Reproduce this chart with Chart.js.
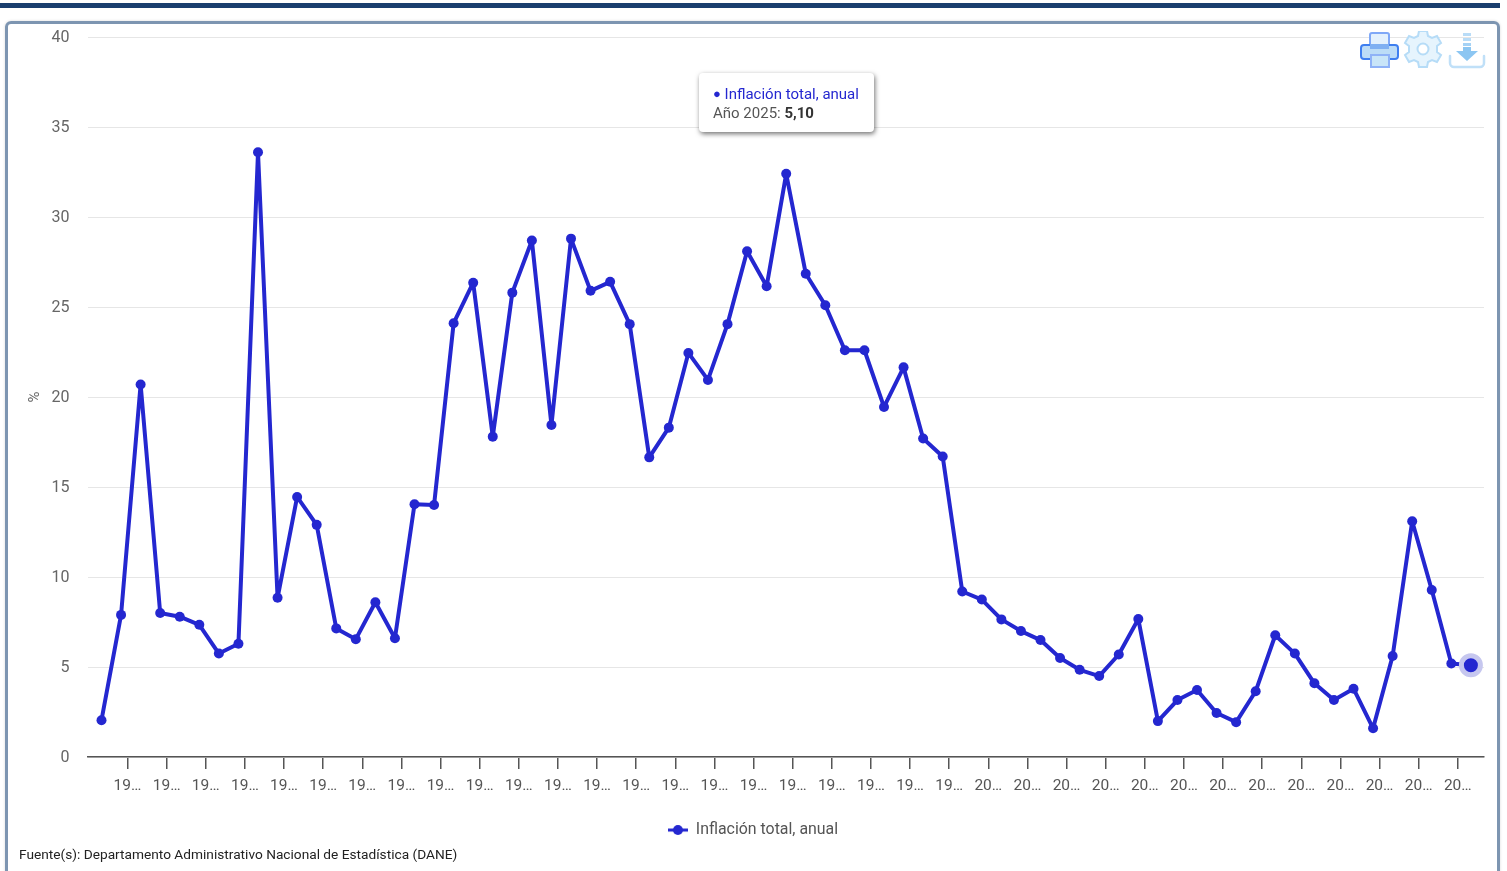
<!DOCTYPE html>
<html lang="es">
<head>
<meta charset="utf-8">
<title>Inflación total, anual</title>
<script src="https://cdn.jsdelivr.net/npm/chart.js@4"></script>
<style>
html, body { margin: 0; height: 871px; overflow: hidden; background: #fff; font-family: Roboto, sans-serif; }
.top-bar { position: absolute; left: 0; top: 3px; width: 1500px; height: 5px; background: #1a3e6e; }
.card { position: absolute; left: 5px; top: 21px; width: 1489px; height: 900px; border: 3px solid #7d95b1; border-radius: 6px; box-shadow: 0 0 3px rgba(0,0,0,.15); }
#chart { position: absolute; left: 0; top: 0; }
.icons { position: absolute; left: 1360px; top: 31px; }
.source { position: absolute; left: 19px; top: 846px; font-size: 13.7px; color: #222; }
#tip { position: absolute; left: 699px; top: 73px; width: 175px; height: 59px; box-sizing: border-box; padding: 11px 14px; background: #fff; border-radius: 4px; box-shadow: 1px 2px 5px rgba(0,0,0,.55); font-size: 15px; line-height: 19px; color: #555; white-space: nowrap; }
#tip .name { color: #2427d0; }
#tip .dot { font-size: 13px; vertical-align: 1px; }
#tip b { color: #333; }
</style>
</head>
<body>
<div class="top-bar"></div>
<div class="card"></div>
<canvas id="chart" width="1507" height="871"></canvas>
<svg class="icons" width="127" height="40" viewBox="0 0 127 40">
  <!-- impresora -->
  <rect x="10" y="2" width="19" height="14" rx="2" fill="#e3f1fd" stroke="#7fa8f7" stroke-width="2"/>
  <path d="M4 14h31a3 3 0 0 1 3 3v8a3 3 0 0 1-3 3H4a3 3 0 0 1-3-3v-8a3 3 0 0 1 3-3z" fill="#bcdcf7" stroke="#3f7ff0" stroke-width="2"/>
  <rect x="10" y="13" width="19" height="5" fill="#7fb0f2"/>
  <rect x="11" y="24" width="18" height="12" fill="#c9e5f8" stroke="#8fb2f7" stroke-width="2"/>
  <!-- engranaje -->
  <g transform="translate(63 18)" fill="#e6f4fd" stroke="#b6dcf7" stroke-width="2">
    <path d="M-4 -18h8l1 5 4 2 5-2 4 7-4 3v6l4 3-4 7-5-2-4 2-1 5h-8l-1-5-4-2-5 2-4-7 4-3v-6l-4-3 4-7 5 2 4-2z"/>
    <circle r="5.5" fill="#fff"/>
  </g>
  <!-- descarga -->
  <g>
    <rect x="103" y="2" width="8" height="3" fill="#b9dcf7"/>
    <rect x="103" y="7" width="8" height="3" fill="#b9dcf7"/>
    <rect x="103" y="12" width="8" height="3" fill="#a5d2f5"/>
    <path d="M103 16h8v4h7l-11 10-11-10h7z" fill="#8cc6f2"/>
    <path d="M90 25v7a4 4 0 0 0 4 4h26a4 4 0 0 0 4-4v-7" fill="none" stroke="#c0e0f8" stroke-width="2.5" stroke-linecap="round"/>
  </g>
</svg>
<div id="tip"></div>
<div class="source">Fuente(s): Departamento Administrativo Nacional de Estadística (DANE)</div>

<script>
/* DATA */
const years = [1955,1956,1957,1958,1959,1960,1961,1962,1963,1964,1965,1966,1967,1968,1969,1970,1971,1972,
    1973,1974,1975,1976,1977,1978,1979,1980,1981,1982,1983,1984,1985,1986,1987,1988,1989,1990,1991,1992,
    1993,1994,1995,1996,1997,1998,1999,2000,2001,2002,2003,2004,2005,2006,2007,2008,2009,2010,2011,2012,
    2013,2014,2015,2016,2017,2018,2019,2020,2021,2022,2023,2024,2025];
const inflacion = [2.05,7.9,20.7,8.0,7.8,7.35,5.75,6.3,33.6,8.85,14.45,12.9,7.15,6.55,8.6,6.6,14.05,14.0,
    24.1,26.35,17.8,25.8,28.7,18.45,28.8,25.9,26.4,24.05,16.65,18.3,22.45,20.95,24.05,28.1,26.15,32.4,26.85,25.1,
    22.6,22.6,19.45,21.65,17.7,16.7,9.2,8.75,7.65,7.0,6.5,5.5,4.85,4.5,5.7,7.67,2.0,3.17,3.73,2.45,
    1.94,3.66,6.77,5.75,4.1,3.17,3.8,1.6,5.62,13.1,9.28,5.2,5.1];
const xTickValues = [1956.33,1958.33,1960.33,1962.33,1964.33,1966.33,1968.33,1970.33,1972.33,1974.33,1976.33,1978.33,
    1980.33,1982.33,1984.33,1986.33,1988.33,1990.33,1992.33,1994.33,1996.33,1998.33,2000.33,2002.33,
    2004.33,2006.33,2008.33,2010.33,2012.33,2014.33,2016.33,2018.33,2020.33,2022.33,2024.33];
const xTickLabels = ['19…','19…','19…','19…','19…','19…','19…','19…','19…','19…','19…','19…','19…','19…','19…','19…','19…','19…','19…','19…','19…','19…',
    '20…','20…','20…','20…','20…','20…','20…','20…','20…','20…','20…','20…','20…'];
const serieNombre = 'Inflación total, anual';
const azul = '#2427d0';

/* simbolo de la leyenda: linea con punto */
const legendSym = document.createElement('canvas');
legendSym.width = 20; legendSym.height = 10;
const sym = legendSym.getContext('2d');
sym.fillStyle = azul; sym.fillRect(0, 3.5, 20, 3);
sym.beginPath(); sym.arc(10, 5, 5, 0, Math.PI * 2); sym.fill();

/* tooltip html, el texto lleva negrita */
function tipHtml(ctx) {
    const dp = ctx.tooltip.dataPoints && ctx.tooltip.dataPoints[0];
    if (!dp) return;
    document.getElementById('tip').innerHTML =
        `<div class="name"><span class="dot">●</span> ${dp.dataset.label}</div>` +
        `<div>Año ${years[dp.dataIndex]}: <b>${dp.parsed.y.toFixed(2).replace('.', ',')}</b></div>`;
}

const chart = new Chart(document.getElementById('chart'), {
    type: 'line',
    data: {
        datasets: [{
            label: serieNombre,
            data: years.map((y, i) => ({x: y, y: inflacion[i]})),
            borderColor: azul, backgroundColor: azul,
            borderWidth: 4, tension: 0, borderJoinStyle: 'round',
            pointRadius: 5, pointBackgroundColor: azul, pointBorderWidth: 0,
            pointHoverRadius: 9.5, pointHoverBackgroundColor: azul,
            pointHoverBorderWidth: 5, pointHoverBorderColor: '#c6c7ef'
        }]
    },
    options: {
        responsive: false, animation: false, events: [],
        layout: {padding: {left: 22, right: 23, top: 37, bottom: 23}},
        plugins: {
            legend: {
                position: 'bottom',
                labels: {
                    usePointStyle: true, pointStyleWidth: 20, padding: 10,
                    color: '#555', font: {family: 'Roboto', size: 15.9},
                    generateLabels: () => [{text: serieNombre, pointStyle: legendSym, datasetIndex: 0, fontColor: '#555', lineWidth: 0}]
                }
            },
            tooltip: {enabled: false, external: tipHtml}
        },
        scales: {
            x: {
                type: 'linear', min: 1954.31, max: 2025.67,
                afterBuildTicks: s => { s.ticks = xTickValues.map(v => ({value: v})); },
                afterFit: s => { s.height = 55; },
                border: {color: '#555', width: 1.5},
                grid: {drawOnChartArea: false, color: '#555', tickLength: 12, lineWidth: 1.5},
                ticks: {
                    autoSkip: false, maxRotation: 0, padding: 8, color: '#555',
                    font: {family: 'Roboto', size: 15.5},
                    callback: (v, i) => xTickLabels[i]
                }
            },
            y: {
                min: 0, max: 40,
                afterFit: s => { s.width = 66; },
                border: {display: false},
                grid: {color: '#e6e6e6', drawTicks: false},
                ticks: {stepSize: 5, padding: 18.5, labelOffset: 1, color: '#666', font: {family: 'Roboto', size: 16}},
                title: {display: true, text: '%', color: '#666', padding: {top: 4, bottom: 0}, font: {family: 'Roboto', size: 15}}
            }
        }
    }
});

/* punto 2025 activo como en la captura */
const ultimo = [{datasetIndex: 0, index: years.length - 1}];
chart.setActiveElements(ultimo);
chart.tooltip.setActiveElements(ultimo, {x: 0, y: 0});
chart.update();
</script>
</body>
</html>
